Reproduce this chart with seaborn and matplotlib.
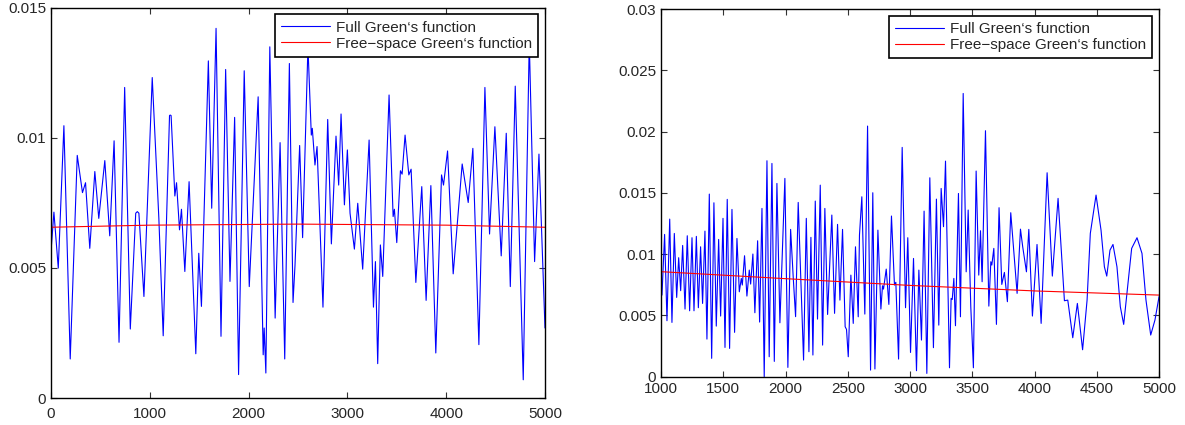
import matplotlib
matplotlib.use("Agg")
import matplotlib.pyplot as plt
from matplotlib.ticker import FuncFormatter
import seaborn as sns
import pandas as pd

# Left panel: full vs free-space Green's function, 0..5000
left_x = [0, 30, 74, 131, 195, 266, 319, 350, 393, 444, 484, 545, 595, 639, 689, 746, 803,
          858, 874, 890, 941, 1025, 1092, 1136, 1200, 1207, 1216, 1254, 1271, 1301, 1321, 1355,
          1398, 1466, 1496, 1523, 1593, 1627, 1671, 1721, 1768, 1812, 1859, 1899, 1956, 2007,
          2097, 2148, 2158, 2175, 2215, 2269, 2319, 2366, 2413, 2450, 2470, 2517, 2547, 2601,
          2635, 2645, 2672, 2693, 2753, 2801, 2838, 2885, 2912, 2936, 2970, 3000, 3027, 3071,
          3105, 3155, 3220, 3264, 3284, 3307, 3334, 3358, 3422, 3463, 3476, 3500, 3537, 3554,
          3584, 3622, 3645, 3693, 3753, 3797, 3845, 3895, 3953, 3973, 4014, 4071, 4162, 4223,
          4270, 4331, 4392, 4439, 4493, 4557, 4608, 4649, 4699, 4780, 4841, 4895, 4939, 5000]
left_full = [0.0056, 0.00714, 0.00499, 0.01046, 0.0015, 0.00932, 0.00789, 0.00827, 0.00575,
             0.0087, 0.0069, 0.00912, 0.00623, 0.00988, 0.00214, 0.01193, 0.00265,
             0.0071, 0.00716, 0.0071, 0.0039, 0.01231, 0.0069, 0.00239, 0.01085, 0.01087,
             0.01085, 0.00776, 0.00827, 0.00646, 0.00725, 0.00486, 0.00831, 0.0017, 0.00556,
             0.00352, 0.01295, 0.00729, 0.0142, 0.00237, 0.01262, 0.00448, 0.01078, 0.0009,
             0.01257, 0.00428, 0.01157, 0.00166, 0.00269, 0.00096, 0.01349, 0.00307, 0.00981,
             0.0015, 0.01285, 0.00367, 0.0051, 0.0097, 0.00616, 0.0135, 0.0101, 0.01036,
             0.00895, 0.00966, 0.00349, 0.0107, 0.00592, 0.01006, 0.00818, 0.01091, 0.00742,
             0.00953, 0.0071, 0.00572, 0.00748, 0.00495, 0.00991, 0.00349, 0.00524, 0.00132,
             0.00588, 0.00467, 0.01164, 0.00697, 0.00725, 0.00597, 0.00873, 0.0086, 0.0101,
             0.00857, 0.00879, 0.00444, 0.00812, 0.00375, 0.00816, 0.00173, 0.00857, 0.00818,
             0.00949, 0.00477, 0.00899, 0.00751, 0.00959, 0.00205, 0.01193, 0.0063, 0.01042,
             0.00546, 0.01017, 0.00428, 0.01198, 0.0007, 0.0137, 0.00524, 0.00937, 0.00269]
left_free_x = [0, 1000, 2500, 4000, 5000]
left_free = [0.00656, 0.00664, 0.00668, 0.00664, 0.00656]

# Right panel: 1000..5000
right_x = [1000, 1008, 1029, 1048, 1070, 1088, 1107, 1126, 1142, 1158, 1174, 1193, 1211, 1230,
           1249, 1265, 1284, 1300, 1318, 1334, 1353, 1369, 1388, 1407, 1425, 1444, 1463, 1479,
           1498, 1514, 1532, 1551, 1570, 1591, 1610, 1629, 1645, 1653, 1671, 1690, 1709, 1720,
           1738, 1754, 1776, 1792, 1811, 1829, 1851, 1869, 1891, 1910, 1931, 1955, 1995, 2019,
           2041, 2062, 2081, 2102, 2145, 2167, 2188, 2204, 2220, 2239, 2257, 2279, 2298, 2316,
           2338, 2372, 2394, 2418, 2437, 2458, 2479, 2490, 2504, 2525, 2544, 2562, 2584, 2594,
           2613, 2637, 2659, 2683, 2701, 2718, 2742, 2766, 2779, 2787, 2809, 2830, 2851, 2875,
           2886, 2908, 2937, 2964, 2982, 3004, 3028, 3052, 3071, 3092, 3113, 3135, 3159, 3188,
           3212, 3231, 3250, 3269, 3285, 3317, 3330, 3339, 3352, 3365, 3389, 3405, 3427, 3451,
           3467, 3488, 3509, 3531, 3552, 3566, 3579, 3606, 3633, 3649, 3657, 3673, 3694, 3715,
           3737, 3758, 3782, 3809, 3860, 3887, 3905, 3935, 3954, 3983, 4020, 4053, 4101, 4143,
           4189, 4240, 4267, 4307, 4344, 4386, 4422, 4448, 4494, 4534, 4561, 4580, 4606, 4630,
           4662, 4689, 4716, 4748, 4780, 4823, 4863, 4895, 4933, 4967, 5000]
right_full = [0.00857, 0.00666, 0.01161, 0.00457, 0.01286, 0.00443, 0.01169, 0.00647, 0.00971,
              0.00702, 0.01071, 0.00552, 0.0115, 0.00538, 0.01134, 0.00538, 0.01145, 0.00563,
              0.0106, 0.00598, 0.01188, 0.00307, 0.0149, 0.0015, 0.01419, 0.00413, 0.0112,
              0.00495, 0.01292, 0.00239, 0.01447, 0.00231, 0.01365, 0.00362, 0.01128, 0.00693,
              0.00802, 0.00748, 0.00987, 0.00658, 0.0087, 0.00756, 0.01001, 0.00522, 0.01109,
              0.00446, 0.01373, 0.0, 0.01762, 0.00163, 0.0174, 0.00125, 0.01577, 0.0044,
              0.01618, 0.00076, 0.01202, 0.0081, 0.0049, 0.01422, 0.00136, 0.01292, 0.00204,
              0.01137, 0.00177, 0.01433, 0.0047, 0.01563, 0.00258, 0.01373, 0.00508, 0.01319,
              0.00517, 0.01243, 0.00625, 0.01202, 0.00408, 0.00386, 0.00163, 0.00829, 0.00435,
              0.0106, 0.00489, 0.01156, 0.01468, 0.00511, 0.02045, 0.00054, 0.01501, 0.00063,
              0.01196, 0.00552, 0.00742, 0.00715, 0.00878, 0.0059, 0.01311, 0.00748, 0.0077,
              0.00144, 0.01871, 0.00563, 0.01134, 0.00198, 0.00965, 0.00049, 0.0087, 0.00299,
              0.01351, 0.00027, 0.01623, 0.00237, 0.01449, 0.00421, 0.01536, 0.01224, 0.01759,
              0.00073, 0.00639, 0.0063, 0.00802, 0.00416, 0.01495, 0.00489, 0.02311, 0.00856,
              0.0136, 0.00571, 0.00073, 0.01678, 0.00829, 0.01191, 0.00775, 0.02007, 0.00576,
              0.00938, 0.00911, 0.01047, 0.00427, 0.01379, 0.00753, 0.00851, 0.00612, 0.01338,
              0.0068, 0.01204, 0.0106, 0.00856, 0.01202, 0.00495, 0.01079, 0.00435, 0.01664,
              0.00821, 0.01455, 0.0062, 0.00625, 0.00318, 0.00598, 0.0022, 0.00625, 0.01169,
              0.01482, 0.01196, 0.00897, 0.00821, 0.01033, 0.01079, 0.00897, 0.00571, 0.00427,
              0.00734, 0.01047, 0.01134, 0.01006, 0.00625, 0.0034, 0.00462, 0.00653]
right_free_x = [1000, 2000, 3000, 4000, 5000]
right_free = [0.00857, 0.0080, 0.00745, 0.0070, 0.00666]

sns.set_style("ticks")
plt.rcParams['font.family'] = ['Liberation Sans', 'DejaVu Sans']
plt.rcParams['xtick.direction'] = 'in'
plt.rcParams['ytick.direction'] = 'in'
plt.rcParams['xtick.top'] = True
plt.rcParams['ytick.right'] = True

fig = plt.figure(figsize=(11.85, 4.25), dpi=100)
ax1 = fig.add_axes([0.0430, 0.0635, 0.4169, 0.9188])
ax2 = fig.add_axes([0.5578, 0.1136, 0.4203, 0.8652])

df_l = pd.DataFrame({'x': left_x, 'y': left_full})
df_lf = pd.DataFrame({'x': left_free_x, 'y': left_free})
df_r = pd.DataFrame({'x': right_x, 'y': right_full})
df_rf = pd.DataFrame({'x': right_free_x, 'y': right_free})

fmt = FuncFormatter(lambda v, p: f"{v:g}")

panels = [
    (ax1, df_l, df_lf, (0, 5000), (0, 0.015), range(0, 5001, 1000), [0, 0.005, 0.01, 0.015], 6.5),
    (ax2, df_r, df_rf, (1000, 5000), (0, 0.03), range(1000, 5001, 500),
     [0, 0.005, 0.01, 0.015, 0.02, 0.025, 0.03], 4.0),
]
for ax, d, dfree, xl, yl, xt, yt, xpad in panels:
    sns.lineplot(data=d, x='x', y='y', ax=ax, color='#0000ff', lw=0.8,
                 estimator=None, sort=False, label='Full Green\u2018s function')
    sns.lineplot(data=dfree, x='x', y='y', ax=ax, color='#ff0000', lw=0.8,
                 estimator=None, sort=False, label='Free\u2212space Green\u2018s function')
    ax.set_xlim(*xl)
    ax.set_ylim(*yl)
    ax.set_xticks(list(xt))
    ax.set_yticks(yt)
    ax.xaxis.set_major_formatter(fmt)
    ax.yaxis.set_major_formatter(fmt)
    ax.set_xlabel('')
    ax.set_ylabel('')
    ax.tick_params(axis='both', labelsize=11, length=4, width=0.8, color='#333333')
    ax.tick_params(axis='x', pad=xpad)
    ax.tick_params(axis='y', pad=3.5)
    for s in ax.spines.values():
        s.set_linewidth(1.0)
        s.set_color('black')
    leg = ax.legend(loc='upper right', fontsize=11, handlelength=3.2, handletextpad=0.4,
                    borderpad=0.4, labelspacing=0.15, borderaxespad=0.45,
                    fancybox=False, framealpha=1, edgecolor='black')
    leg.get_frame().set_linewidth(1.2)

fig.savefig('out.png', dpi=100)
